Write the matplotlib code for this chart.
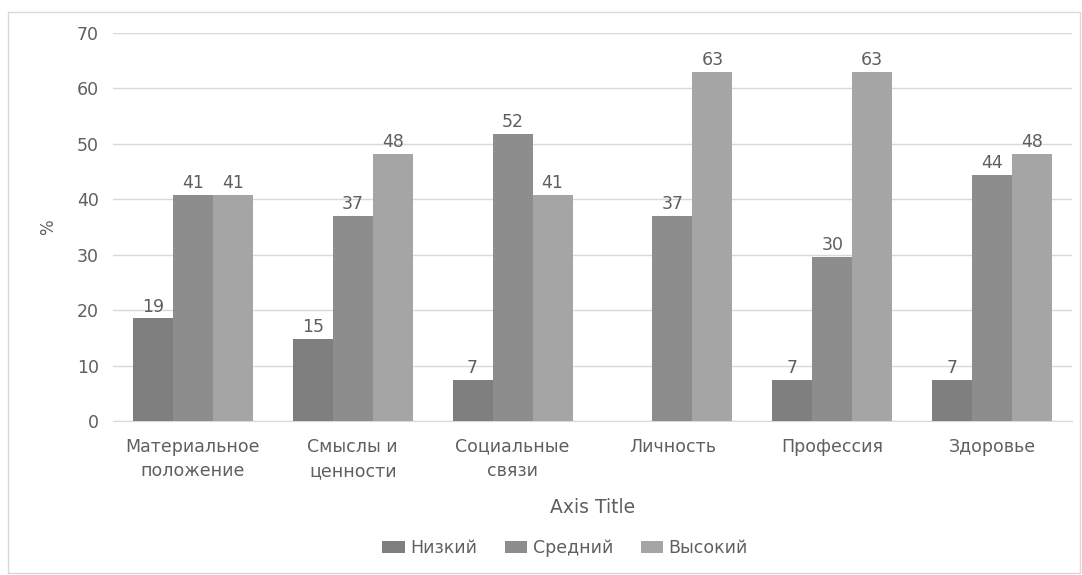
import numpy as np
import matplotlib
matplotlib.use('Agg')
import matplotlib.pyplot as plt
from matplotlib.patches import Rectangle

# Data
categories = ['Материальное\nположение', 'Смыслы и\nценности', 'Социальные\nсвязи',
              'Личность', 'Профессия', 'Здоровье']
series_names = ['Низкий', 'Средний', 'Высокий']
low = [18.52, 14.81, 7.41, 0.0, 7.41, 7.41]
mid = [40.74, 37.04, 51.85, 37.04, 29.63, 44.44]
high = [40.74, 48.15, 40.74, 62.96, 62.96, 48.15]
colors = ['#7f7f7f', '#8d8d8d', '#a5a5a5']

plt.rcParams['font.family'] = ['DejaVu Sans']
text_color = '#5f5f5f'

fig = plt.figure(figsize=(10.82, 5.75), dpi=100)
ax = fig.add_axes([0.1044, 0.2678, 0.8864, 0.6748])

# chart border
fig.patches.append(Rectangle((8 / 1082, 0.003), 1 - 10 / 1082, 1 - 12 / 575 - 0.003,
                             transform=fig.transFigure, fill=False,
                             edgecolor='#d9d9d9', linewidth=1))

x = np.arange(len(categories))
w = 0.25
for i, (vals, name) in enumerate(zip([low, mid, high], series_names)):
    bars = ax.bar(x + (i - 1) * w, vals, w, color=colors[i], label=name, zorder=3)
    for b, v in zip(bars, vals):
        if v > 0:
            ax.text(b.get_x() + b.get_width() / 2, v + 0.5, f'{v:.0f}',
                    ha='center', va='bottom', fontsize=12.5, color=text_color)

ax.set_xlim(-0.5, len(categories) - 0.5)
ax.set_ylim(0, 70)
ax.set_yticks(range(0, 71, 10))
ax.set_xticks(x)
ax.set_xticklabels(categories, fontsize=12.5, color=text_color, linespacing=1.45)
ax.tick_params(axis='y', labelsize=12.5, labelcolor=text_color, length=0, pad=10)
ax.tick_params(axis='x', length=0, pad=12)
ax.grid(axis='y', color='#d9d9d9', linewidth=1, zorder=0)
for s in ['top', 'right', 'left']:
    ax.spines[s].set_visible(False)
ax.spines['bottom'].set_color('#d9d9d9')

ax.set_ylabel('%', fontsize=12, color=text_color, labelpad=14)
ax.set_xlabel('Axis Title', fontsize=13.5, color=text_color, labelpad=13)

fig.legend(loc='center', bbox_to_anchor=(565 / 1082, 1 - 548 / 575), ncol=3, frameon=False,
           fontsize=12.5, labelcolor=text_color, handlelength=1.3, handleheight=0.75,
           handletextpad=0.3, columnspacing=1.6)

fig.savefig('out.png', dpi=100)
